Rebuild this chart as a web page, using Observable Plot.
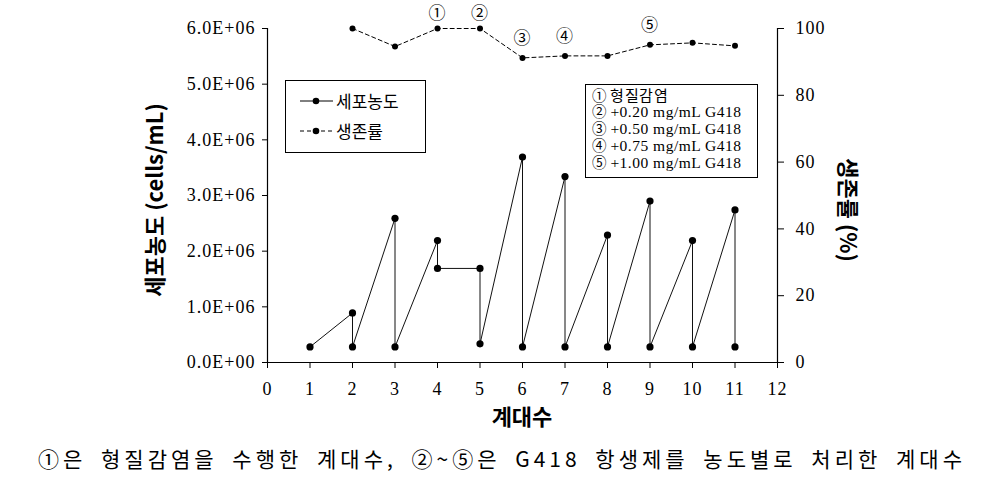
<!DOCTYPE html>
<html><head><meta charset="utf-8">
<script src="https://cdn.jsdelivr.net/npm/d3@7"></script>
<script src="https://cdn.jsdelivr.net/npm/@observablehq/plot@0.6"></script>
<style>
@font-face{font-family:"CJKTight";src:local("Noto Sans CJK KR"),local("Noto Sans CJK KR Regular"),local("NotoSansCJKkr-Regular");ascent-override:82%;descent-override:16%;line-gap-override:0%;}
body{margin:0;background:#fff;}
#wrap{position:relative;width:986px;height:502px;overflow:hidden;font-family:"Noto Sans CJK KR",sans-serif;}
.abs{position:absolute;white-space:nowrap;color:#000;}
.box{position:absolute;border:1px solid #000;background:#fff;}
.ser{font-family:"Liberation Serif","DejaVu Serif",serif;}
.tight{font-family:"CJKTight","Noto Sans CJK KR",sans-serif;}
</style></head><body>
<div id="wrap"></div>
<script>
// ---- data ----
const passage = [1,2,2,3,3,4,4,5,5,6,6,7,7,8,8,9,9,10,10,11,11];
const density = [0.28e6,0.89e6,0.28e6,2.59e6,0.28e6,2.19e6,1.69e6,1.69e6,0.335e6,3.69e6,0.28e6,3.34e6,0.28e6,2.29e6,0.28e6,2.90e6,0.28e6,2.19e6,0.28e6,2.74e6,0.28e6];
const survPassage = [2,3,4,5,6,7,8,9,10,11];
const survival = [100,94.6,100,100,91.2,91.8,91.8,95.1,95.7,94.8];
const markPassage = [4,5,6,7,9];
const markLabel = ["①","②","③","④","⑤"];
const xTicks = [0,1,2,3,4,5,6,7,8,9,10,11,12];
const leftTicks = [0,1e6,2e6,3e6,4e6,5e6,6e6];
const rightTicks = [0,20,40,60,80,100];
const treatLabels = ["① 형질감염","② +0.20 mg/mL G418","③ +0.50 mg/mL G418","④ +0.75 mg/mL G418","⑤ +1.00 mg/mL G418"];
const seriesNames = ["세포농도","생존률"];
const yTitle = "세포농도 (cells/mL)";
const y2Title = "생존률 (%)";
const xTitle = "계대수";
const caption = "①은 형질감염을 수행한 계대수, ②~⑤은 G418 항생제를 농도별로 처리한 계대수";

const YMAX = 6e6;
const dens = passage.map((p,i)=>({x:p,y:density[i]}));
const surv = survPassage.map((p,i)=>({x:p,y:survival[i]/100*YMAX}));
const marks = markPassage.map((p,i)=>({x:p,y:survival[survPassage.indexOf(p)]/100*YMAX,label:markLabel[i],i}));

const fmtL = d => d===0 ? "0.0E+00" : (d/1e6).toFixed(1)+"E+06";

const chart = Plot.plot({
  width:986, height:430,
  marginLeft:267, marginRight:209, marginTop:28, marginBottom:68,
  style:{fontFamily:"'Liberation Serif',serif",fontSize:"18px",color:"#000",background:"transparent",letterSpacing:"1px"},
  x:{domain:[0,12]},
  y:{domain:[0,YMAX]},
  marks:[
    Plot.ruleX([0,12],{y1:0,y2:YMAX,stroke:"#000",strokeWidth:1.2}),
    Plot.ruleY([0],{stroke:"#000",strokeWidth:1.2}),
    Plot.axisX({ticks:xTicks,tickSize:6,tickPadding:14,label:null,fontSize:18,tickFormat:d=>String(d)}),
    Plot.axisY({anchor:"left",ticks:leftTicks,tickSize:5,tickPadding:7,label:null,fontSize:18,tickFormat:fmtL}),
    Plot.axisY({anchor:"right",ticks:rightTicks.map(v=>v/100*YMAX),tickSize:6,tickPadding:12,label:null,fontSize:18,tickFormat:d=>String(Math.round(d/YMAX*100))}),
    Plot.line(surv,{x:"x",y:"y",stroke:"#000",strokeWidth:1,strokeDasharray:"4,3"}),
    Plot.dot(surv,{x:"x",y:"y",r:3,fill:"#000"}),
    Plot.line(dens,{x:"x",y:"y",stroke:"#111",strokeWidth:1}),
    Plot.dot(dens,{x:"x",y:"y",r:3.6,fill:"#000"}),
    Plot.text(marks.filter(d=>d.i<2),{x:"x",y:"y",text:"label",dy:-15,fontSize:17,fontFamily:"Noto Sans CJK KR",fill:"#000"}),
    Plot.text(marks.filter(d=>d.i>=2),{x:"x",y:"y",text:"label",dy:-19,fontSize:17,fontFamily:"Noto Sans CJK KR",fill:"#000"})
  ]
});
const wrap = document.getElementById("wrap");
chart.style.position="absolute"; chart.style.left="0"; chart.style.top="0";
wrap.appendChild(chart);

function add(html, css){const d=document.createElement("div");d.className="abs";d.innerHTML=html;Object.assign(d.style,css);wrap.appendChild(d);return d;}

// axis titles
add(yTitle,{left:"153px",top:"200px",fontSize:"22px",fontWeight:"bold",transform:"translate(-50%,-50%) rotate(-90deg)"});
add(y2Title,{left:"850px",top:"210px",fontSize:"22px",fontWeight:"bold",transform:"translate(-50%,-50%) rotate(90deg)"});
add(xTitle,{left:"522px",top:"415px",fontSize:"22px",fontWeight:"bold",transform:"translate(-50%,-50%)"});

// legend box 1
const b1=document.createElement("div");b1.className="box";Object.assign(b1.style,{left:"285px",top:"80px",width:"139px",height:"71px"});wrap.appendChild(b1);
b1.innerHTML=`<svg width="139" height="71" style="position:absolute;left:0;top:0">
<line x1="14" y1="20" x2="47" y2="20" stroke="#000"/><circle cx="30" cy="20" r="3.3"/>
<line x1="14" y1="50" x2="47" y2="50" stroke="#000" stroke-dasharray="4,3"/><circle cx="30" cy="50" r="3.3"/></svg>`;
add(seriesNames[0],{left:"336px",top:"100px",fontSize:"17px",transform:"translateY(-50%)"});
add(seriesNames[1],{left:"336px",top:"130px",fontSize:"17px",transform:"translateY(-50%)"});

// legend box 2
const b2=document.createElement("div");b2.className="box";Object.assign(b2.style,{left:"585px",top:"84px",width:"171px",height:"92px"});wrap.appendChild(b2);
treatLabels.forEach((t,i)=>{
  const parts=t.split(" ");
  const c=parts.shift();
  add(`<span class="tight" style="font-size:14.5px">${c}</span> <span class="${i===0?'tight':'ser'}" style="font-size:${i===0?15:15.5}px">${parts.join(" ")}</span>`,
    {left:"592px",top:(86.5+i*16.8)+"px",fontSize:"15px",letterSpacing:"0.5px",lineHeight:"15px",height:"15px"});
});

// caption
const cap=add(caption,{left:"38px",top:"458px",fontSize:"21px",wordSpacing:"6px",transform:"translateY(-50%)"});
const w=cap.getBoundingClientRect().width;
const nch=caption.length;
cap.style.letterSpacing=((928-w)/nch)+"px";
</script>
</body></html>
